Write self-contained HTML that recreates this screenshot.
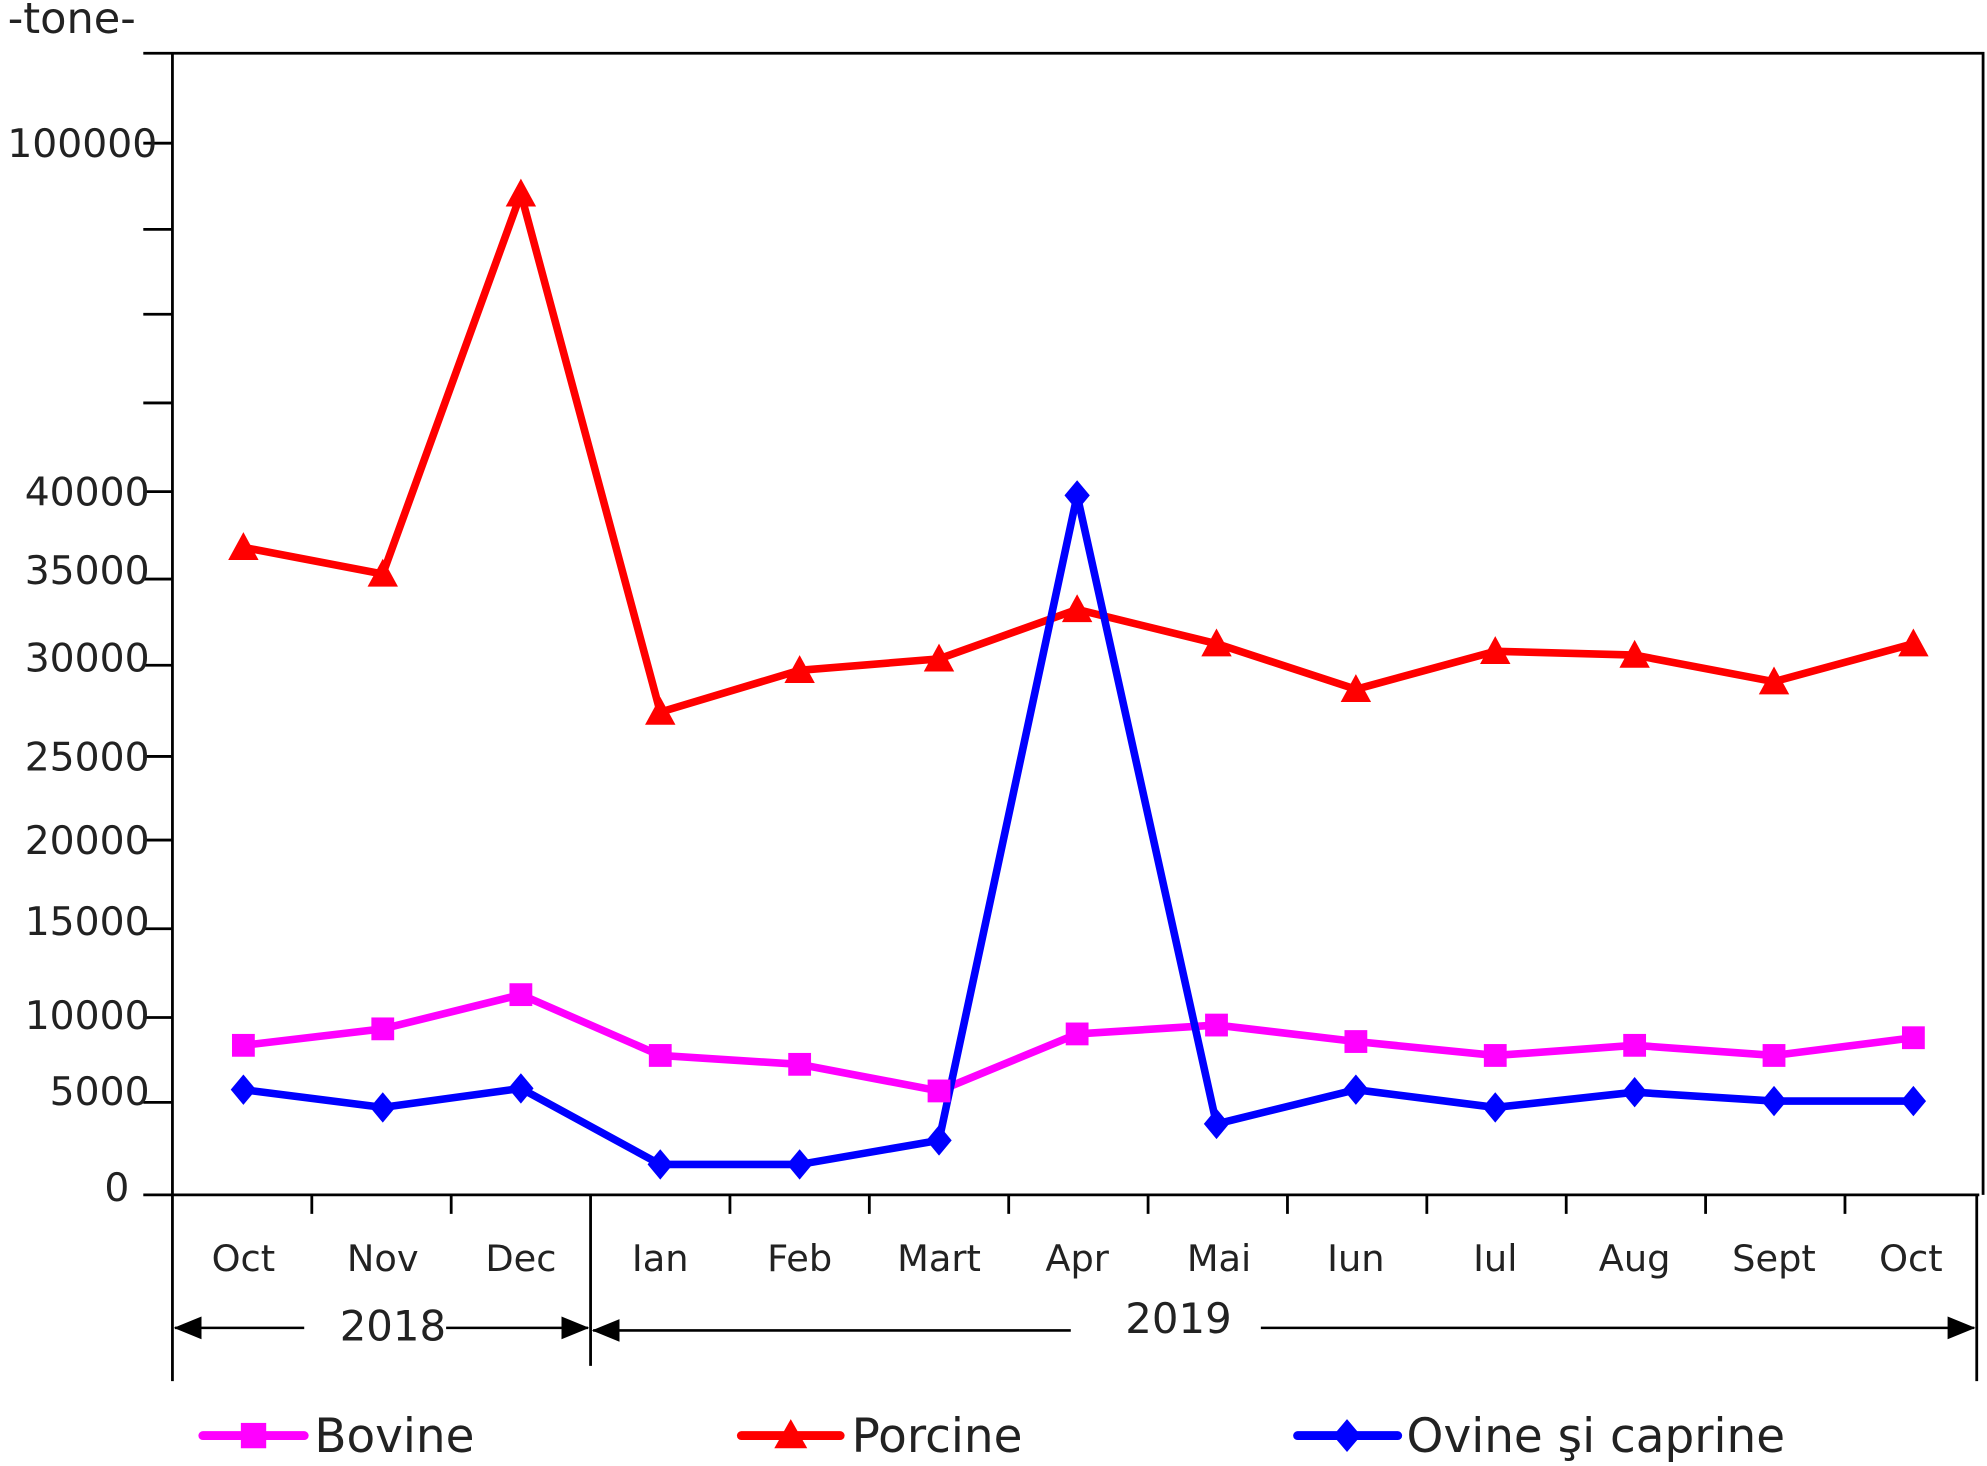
<!DOCTYPE html>
<html><head><style>body{margin:0;background:#fff}svg{display:block}</style></head><body>
<svg width="1987" height="1466" viewBox="0 0 1568 1157" xmlns="http://www.w3.org/2000/svg" font-family="DejaVu Sans, Liberation Sans, sans-serif">
<defs>
<marker id="ah" markerWidth="22" markerHeight="18" refX="21" refY="9" orient="auto-start-reverse" markerUnits="userSpaceOnUse"><path d="M0,0 L22,9 L0,18 Z" fill="#000"/></marker>
</defs>
<rect width="1568" height="1157" fill="#fff"/>
<text x="6" y="26" font-size="34" fill="#222">-tone-</text>
<g stroke="#000" stroke-width="2.2" fill="none">
<path d="M113,42 H1565 V943"/>
<path d="M136,42 V1090"/>
<path d="M113,943 H1562"/>
<path d="M113,113H136M113,181H136M113,248H136M113,318H136M113,388H136M113,457H136M113,525H136M113,597H136M113,663H136M113,733H136M113,803H136M113,870H136"/>
<path d="M246,943V958M356,943V958M576,943V958M686,943V958M796,943V958M906,943V958M1016,943V958M1126,943V958M1236,943V958M1346,943V958M1456,943V958"/>
<path d="M466,943V1078M1560,943V1090"/>
</g>
<g stroke="#000" stroke-width="2" fill="none">
<path d="M138,1048H240" marker-start="url(#ah)"/>
<path d="M352,1048H464" marker-end="url(#ah)"/>
<path d="M468,1050H845" marker-start="url(#ah)"/>
<path d="M995,1048H1558" marker-end="url(#ah)"/>
</g>
<g font-size="31" fill="#222" text-anchor="end">
<text x="124" y="124">100000</text>
<text x="118" y="399">40000</text>
<text x="118" y="461">35000</text>
<text x="118" y="530">30000</text>
<text x="118" y="608">25000</text>
<text x="118" y="674">20000</text>
<text x="118" y="738">15000</text>
<text x="118" y="812">10000</text>
<text x="118" y="872">5000</text>
<text x="102" y="948">0</text>
</g>
<g font-size="29" fill="#222" text-anchor="middle">
<text x="192" y="1003">Oct</text><text x="302" y="1003">Nov</text><text x="411" y="1003">Dec</text>
<text x="521" y="1003">Ian</text><text x="631" y="1003">Feb</text><text x="741" y="1003">Mart</text>
<text x="850" y="1003">Apr</text><text x="962" y="1003">Mai</text><text x="1070" y="1003">Iun</text>
<text x="1180" y="1003">Iul</text><text x="1290" y="1003">Aug</text><text x="1400" y="1003">Sept</text>
<text x="1508" y="1003">Oct</text>
<text x="310" y="1058" font-size="33">2018</text>
<text x="930" y="1052" font-size="33">2019</text>
</g>
<g stroke-width="6" fill="none" stroke-linejoin="round">
<polyline stroke="#ff00ff" points="192,825 302,812 411,785 521,833 631,840 741,861 850,816 960,809 1070,822 1180,833 1290,825 1400,833 1510,819"/>
<polyline stroke="#ff0000" points="192,432 302,453 411,153 521,562 631,529 741,520 850,481 960,508 1070,544 1180,514 1290,517 1400,538 1510,508"/>
<polyline stroke="#0000ff" points="192,860 302,874 411,859 521,919 631,919 741,900 850,391 960,887 1070,860 1180,874 1290,862 1400,869 1510,869"/>
</g>
<g fill="#ff00ff">
<rect x="183" y="816" width="18" height="18"/><rect x="293" y="803" width="18" height="18"/><rect x="402" y="776" width="18" height="18"/><rect x="512" y="824" width="18" height="18"/><rect x="622" y="831" width="18" height="18"/><rect x="732" y="852" width="18" height="18"/><rect x="841" y="807" width="18" height="18"/><rect x="951" y="800" width="18" height="18"/><rect x="1061" y="813" width="18" height="18"/><rect x="1171" y="824" width="18" height="18"/><rect x="1281" y="816" width="18" height="18"/><rect x="1391" y="824" width="18" height="18"/><rect x="1501" y="810" width="18" height="18"/>
</g>
<g fill="#ff0000">
<path d="M192,420l12,22h-24z"/><path d="M302,441l12,22h-24z"/><path d="M411,141l12,22h-24z"/><path d="M521,550l12,22h-24z"/><path d="M631,517l12,22h-24z"/><path d="M741,508l12,22h-24z"/><path d="M850,469l12,22h-24z"/><path d="M960,496l12,22h-24z"/><path d="M1070,532l12,22h-24z"/><path d="M1180,502l12,22h-24z"/><path d="M1290,505l12,22h-24z"/><path d="M1400,526l12,22h-24z"/><path d="M1510,496l12,22h-24z"/>
</g>
<g fill="#0000ff">
<path d="M192,848l10,12l-10,12l-10,-12z"/><path d="M302,862l10,12l-10,12l-10,-12z"/><path d="M411,847l10,12l-10,12l-10,-12z"/><path d="M521,907l10,12l-10,12l-10,-12z"/><path d="M631,907l10,12l-10,12l-10,-12z"/><path d="M741,888l10,12l-10,12l-10,-12z"/><path d="M850,379l10,12l-10,12l-10,-12z"/><path d="M960,875l10,12l-10,12l-10,-12z"/><path d="M1070,848l10,12l-10,12l-10,-12z"/><path d="M1180,862l10,12l-10,12l-10,-12z"/><path d="M1290,850l10,12l-10,12l-10,-12z"/><path d="M1400,857l10,12l-10,12l-10,-12z"/><path d="M1510,857l10,12l-10,12l-10,-12z"/>
</g>
<g stroke-width="7" stroke-linecap="round">
<line x1="160" y1="1133" x2="240" y2="1133" stroke="#ff00ff"/>
<line x1="585" y1="1133" x2="663" y2="1133" stroke="#ff0000"/>
<line x1="1024" y1="1133" x2="1103" y2="1133" stroke="#0000ff"/>
</g>
<rect x="190" y="1123" width="20" height="20" fill="#ff00ff"/>
<path d="M624,1120l13,23h-26z" fill="#ff0000"/>
<path d="M1063,1120l11,13l-11,13l-11,-13z" fill="#0000ff"/>
<g font-size="37" fill="#222">
<text x="248" y="1146">Bovine</text>
<text x="672" y="1146">Porcine</text>
<text x="1110" y="1146">Ovine şi caprine</text>
</g>
</svg>
</body></html>
